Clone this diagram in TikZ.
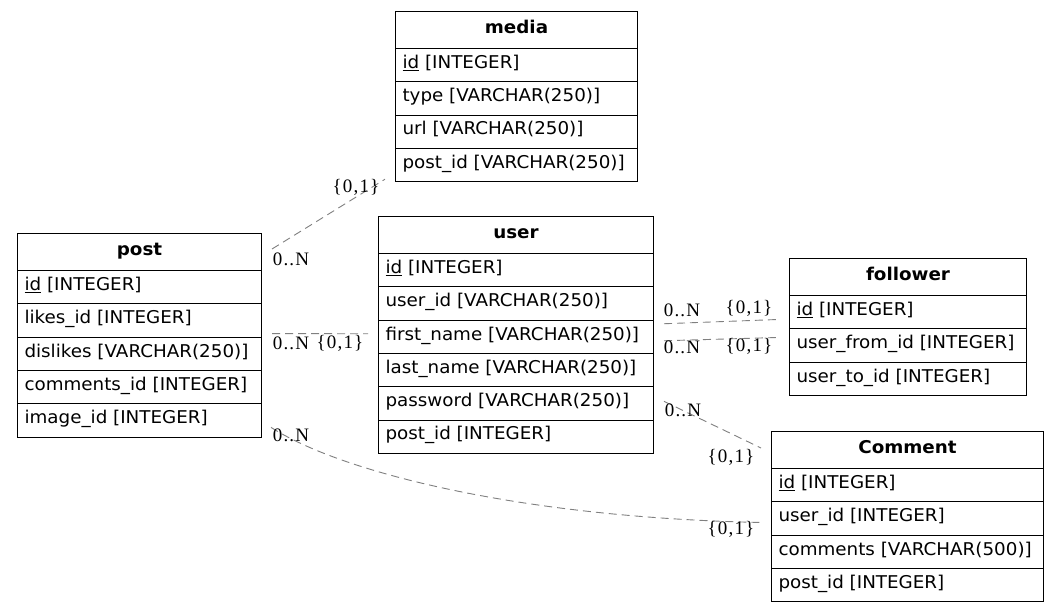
\documentclass[tikz,border=0pt]{standalone}
\usepackage{fontspec}
\usetikzlibrary{calc}
\newfontfamily\tabfont{DejaVu Sans}[FakeStretch=1.04]
\newfontfamily\labfont{Liberation Serif}[LetterSpace=6]
\def\rowh{33.3}
\newcommand\ertable[6]{%
  \pgfmathsetmacro\tw{#4-14}%
  \node[hdrbox, minimum width=#4pt, anchor=north west] (#1) at (#2,#3) {#5};
  \foreach \r [count=\i] in {#6} {
    \pgfmathsetmacro\ry{#3+37+(\i-1)*\rowh}
    \node[rowbox, minimum width=#4pt, anchor=north west] (#1-\i) at (#2,\ry) {\makebox[\tw pt][l]{\r}};
  }%
}
\begin{document}
\begin{tikzpicture}[x=1pt,y=-1pt,
  hdrbox/.style={draw=black, line width=1pt, rectangle, minimum height=37pt, inner sep=0pt,
    font=\tabfont\bfseries\fontsize{17.6}{20}\selectfont, text height=13.5pt, text depth=6.5pt},
  rowbox/.style={draw=black, line width=1pt, rectangle, minimum height=\rowh pt, inner xsep=7pt, inner ysep=0pt,
    font=\tabfont\fontsize{17.6}{20}\selectfont, text height=13pt, text depth=6.5pt},
  rel/.style={draw=gray, line width=0.9pt, dash pattern=on 8pt off 5pt},
  card/.style={font=\labfont\fontsize{19}{21}\selectfont, inner sep=0pt, text=black}]
\useasboundingbox[fill=white] (0,0) rectangle (1059,612);

\ertable{media}{395}{11}{242}{media}{\underline{id} [INTEGER], type [VARCHAR(250)], url [VARCHAR(250)], post\_id [VARCHAR(250)]}
\ertable{post}{17}{233}{244}{post}{\underline{id} [INTEGER], likes\_id [INTEGER], dislikes [VARCHAR(250)], comments\_id [INTEGER], image\_id [INTEGER]}
\ertable{user}{378}{216}{275}{user}{\underline{id} [INTEGER], user\_id [VARCHAR(250)], first\_name [VARCHAR(250)], last\_name [VARCHAR(250)], password [VARCHAR(250)], post\_id [INTEGER]}
\ertable{follower}{789}{258}{237}{follower}{\underline{id} [INTEGER], user\_from\_id [INTEGER], user\_to\_id [INTEGER]}
\ertable{comment}{771}{431}{272}{Comment}{\underline{id} [INTEGER], user\_id [INTEGER], comments [VARCHAR(500)], post\_id [INTEGER]}

% connector end points, just off the tables
\coordinate (pmA) at ($(post.north east)+(10,16)$);
\coordinate (pmB) at ($(media-4.south west)+(-10,-3)$);
\coordinate (puA) at ($(post-3.north east)+(10,-3)$);
\coordinate (puB) at ($(user-3.west)+(-10,-3)$);
\coordinate (uf1A) at ($(user-3.east)+(10,-13)$);
\coordinate (uf1B) at ($(follower-2.west)+(-10,-26)$);
\coordinate (uf2A) at ($(user-3.east)+(10,4)$);
\coordinate (uf2B) at ($(follower-2.west)+(-10,-8)$);
\coordinate (ucA) at ($(user-5.east)+(10,-2)$);
\coordinate (ucB) at ($(comment.west)+(-10,-2)$);
\coordinate (pcA) at ($(post-5.east)+(9,7)$);
\coordinate (pcB) at ($(comment-2.west)+(-11,4)$);

\draw[rel] (pmA) -- (pmB);
\draw[rel] (puA) -- (puB);
\draw[rel] (uf1A) -- (uf1B);
\draw[rel] (uf2A) -- (uf2B);
\draw[rel] (ucA) -- (ucB);
\draw[rel] (pcA) .. controls ($(pcA)+(70,45)$) and ($(pcB)+(-240,-5)$) .. (pcB);

% cardinalities
\node[card] (l1a) at (291,259.5) {0..N};
\node[card] (l1b) at (356,187) {\{0,1\}};
\node[card] (l2a) at (291,343) {0..N};
\node[card] (l2b) at (340,343) {\{0,1\}};
\node[card] (l3a) at (682,310) {0..N};
\node[card] (l3b) at (749,308) {\{0,1\}};
\node[card] (l4a) at (682,347) {0..N};
\node[card] (l4b) at (749,346) {\{0,1\}};
\node[card] (l5a) at (683,410) {0..N};
\node[card] (l5b) at (731,457) {\{0,1\}};
\node[card] (l6a) at (291,435) {0..N};
\node[card] (l6b) at (731,529) {\{0,1\}};
\end{tikzpicture}
\end{document}
